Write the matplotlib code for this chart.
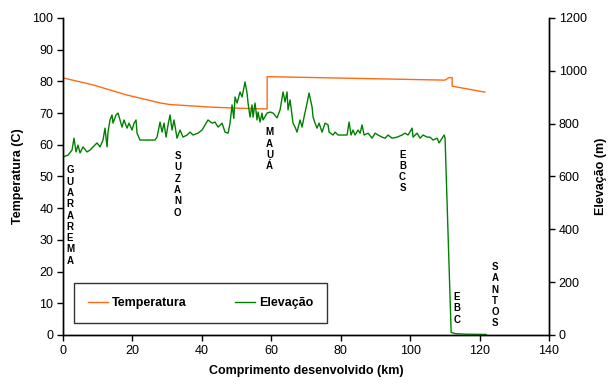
import matplotlib
matplotlib.use("Agg")
import matplotlib.pyplot as plt

plt.rcParams['font.family'] = ['Liberation Sans', 'DejaVu Sans']

# Temperature profile (km, °C)
temp_km = [0.0, 8.6, 18.4, 28.0, 30.8, 42.4, 49.0, 58.8, 58.8, 110.0, 111.2, 112.1, 112.1, 121.5]
temp_c = [81.1, 78.9, 75.7, 73.2, 72.7, 71.9, 71.6, 71.3, 81.5, 80.4, 81.2, 81.2, 78.5, 76.6]

# Elevation profile (km, m)
elev_km = [0.0, 1.44, 2.59, 3.17, 3.75, 4.32, 4.90, 5.76, 6.91, 7.78, 8.64, 9.80, 10.66, 11.52,
           12.10, 12.68, 12.96, 13.54, 14.12, 14.41, 15.27, 15.85, 16.42, 17.00, 17.57, 18.44,
           19.01, 19.88, 20.46, 21.03, 21.32, 22.18, 25.06, 26.51, 27.08, 27.95, 28.52, 29.10,
           29.68, 30.25, 30.83, 31.40, 31.98, 32.84, 33.71, 34.57, 35.72, 36.59, 37.45, 38.89,
           40.05, 40.91, 41.77, 42.93, 43.79, 44.66, 45.81, 46.67, 47.54, 48.12, 48.69, 49.20,
           49.55, 50.13, 50.99, 51.57, 52.43, 53.01, 53.30, 53.87, 54.45, 54.74, 55.32, 55.89,
           56.18, 56.76, 57.33, 57.62, 58.77, 59.64, 60.50, 61.65, 62.52, 63.38, 63.96, 64.53,
           64.82, 65.40, 66.26, 66.84, 67.41, 68.28, 68.86, 69.43, 70.30, 70.87, 71.74, 72.03,
           72.60, 73.18, 73.75, 74.62, 75.48, 76.35, 76.63, 77.79, 78.36, 79.23, 81.82, 82.40,
           82.97, 83.55, 84.12, 84.99, 85.57, 86.14, 86.72, 87.87, 89.02, 89.89, 90.75, 91.90,
           92.77, 93.63, 94.79, 96.23, 97.67, 98.53, 99.39, 100.55, 100.84, 101.99, 102.85,
           103.72, 104.87, 105.73, 106.60, 107.75, 108.33, 109.19, 109.77, 110.05, 111.8,
           113.0, 116.0, 121.9]
elev_m = [674, 681, 700, 745, 693, 719, 689, 712, 693, 700, 712, 727, 712, 738,
          783, 712, 768, 814, 833, 802, 833, 840, 814, 787, 814, 783,
          802, 776, 802, 814, 764, 738, 738, 738, 749, 806, 768, 802,
          749, 795, 833, 776, 814, 745, 776, 749, 757, 768, 757, 764,
          776, 795, 814, 802, 806, 787, 802, 768, 764, 802, 871, 820,
          901, 878, 920, 901, 958, 916, 878, 825, 871, 825, 878, 814,
          844, 806, 840, 814, 840, 844, 840, 822, 852, 920, 882, 920,
          852, 890, 802, 787, 768, 814, 787, 825, 878, 916, 863, 825,
          802, 783, 802, 768, 802, 795, 768, 757, 768, 757, 757, 806,
          757, 776, 757, 776, 764, 795, 757, 764, 745, 764, 757, 749,
          745, 757, 745, 749, 757, 764, 757, 783, 749, 764, 745,
          757, 749, 749, 738, 745, 727, 745, 757, 745, 10,
          5, 3, 2]

# Station labels (name, km position, temperature-axis top)
stations = ["GUARAREMA", "SUZANO", "MAUÁ", "EBCS", "EBC", "SANTOS"]
station_km = [2.0, 33.0, 59.5, 97.8, 113.5, 124.5]
station_top = [53.5, 58.0, 65.5, 58.5, 13.5, 23.0]

fig = plt.figure(figsize=(6.16, 3.87), dpi=100)
ax = fig.add_axes([0.1023, 0.1344, 0.7890, 0.8191])
ax2 = ax.twinx()

l1, = ax.plot(temp_km, temp_c, color='#FF6A13', lw=1.0, label='Temperatura')
l2, = ax2.plot(elev_km, elev_m, color='#008000', lw=1.0, label='Elevação')

ax.set_xlim(0, 140)
ax.set_ylim(0, 100)
ax2.set_ylim(0, 1200)
ax.set_xticks(range(0, 141, 20))
ax.set_yticks(range(0, 101, 10))
ax2.set_yticks(range(0, 1201, 200))

for a in (ax, ax2):
    a.spines['top'].set_visible(False)
    a.tick_params(direction='out', length=4, width=1, labelsize=9, pad=3)
    for s in a.spines.values():
        s.set_linewidth(1)

ax.set_xlabel('Comprimento desenvolvido (km)', fontsize=9, fontweight='bold', labelpad=6)
ax.set_ylabel('Temperatura (C)', fontsize=9, fontweight='bold', labelpad=6)
ax2.set_ylabel('Elevação (m)', fontsize=9, fontweight='bold', labelpad=6)

for name, xk, yt in zip(stations, station_km, station_top):
    ax.text(xk, yt, "\n".join(name), ha='center', va='top', fontsize=7,
            fontweight='bold', linespacing=1.16)

leg = ax.legend(handles=[l1, l2], loc='lower left', ncol=2,
                prop={'size': 9, 'weight': 'bold'},
                bbox_to_anchor=(0.0226, 0.038), frameon=True, fancybox=False,
                edgecolor='black', handlelength=1.6, columnspacing=3.9,
                borderpad=1.1, handletextpad=0.3, borderaxespad=0)
leg.get_frame().set_linewidth(1)

fig.savefig('out.png', dpi=100)
